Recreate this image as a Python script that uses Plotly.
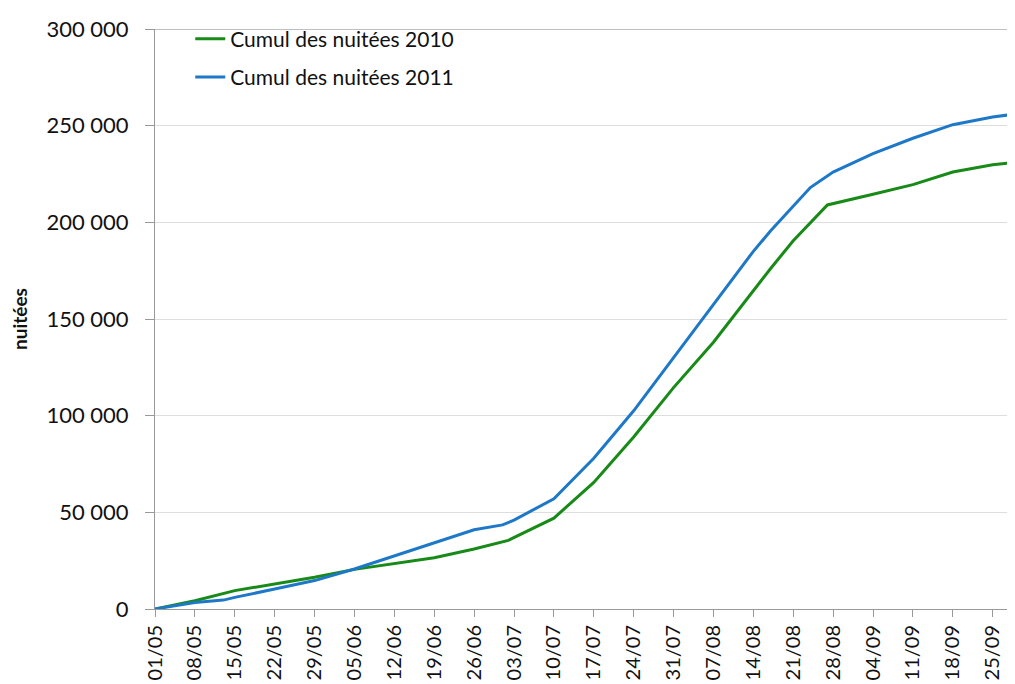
import plotly.graph_objects as go

# cumul des nuitées
dates_2010 = ['2011-05-01', '2011-05-08', '2011-05-15', '2011-05-22', '2011-05-29',
              '2011-06-05', '2011-06-12', '2011-06-19', '2011-06-26', '2011-07-02',
              '2011-07-10', '2011-07-17', '2011-07-24', '2011-07-31', '2011-08-07',
              '2011-08-14', '2011-08-17', '2011-08-21', '2011-08-27', '2011-09-04',
              '2011-09-11', '2011-09-18', '2011-09-25', '2011-09-30']
cumul_2010 = [0, 4300, 9500, 13000, 16400, 20500, 23500, 26500, 31000, 35500,
              47000, 65500, 89000, 114500, 138000, 164800, 176000, 190500, 209000,
              214500, 219500, 226000, 229800, 231300]

dates_2011 = ['2011-05-01', '2011-05-08', '2011-05-13', '2011-05-15', '2011-05-22',
              '2011-05-29', '2011-06-05', '2011-06-12', '2011-06-19', '2011-06-26',
              '2011-07-01', '2011-07-03', '2011-07-10', '2011-07-17', '2011-07-24',
              '2011-07-31', '2011-08-07', '2011-08-14', '2011-08-17', '2011-08-21',
              '2011-08-24', '2011-08-28', '2011-09-04', '2011-09-11', '2011-09-18',
              '2011-09-25', '2011-09-30']
cumul_2011 = [0, 3400, 4600, 6000, 10300, 14700, 20700, 27600, 34500, 41000,
              43500, 46000, 57000, 78000, 102500, 130000, 157000, 185000, 195500,
              208500, 218000, 226000, 235500, 243500, 250500, 254500, 256400]

tick_dates = ['2011-05-01', '2011-05-08', '2011-05-15', '2011-05-22', '2011-05-29',
              '2011-06-05', '2011-06-12', '2011-06-19', '2011-06-26', '2011-07-03',
              '2011-07-10', '2011-07-17', '2011-07-24', '2011-07-31', '2011-08-07',
              '2011-08-14', '2011-08-21', '2011-08-28', '2011-09-04', '2011-09-11',
              '2011-09-18', '2011-09-25']

font_name = "Lato, Open Sans, sans-serif"

fig = go.Figure()
fig.add_trace(go.Scatter(x=dates_2010, y=cumul_2010, mode='lines',
                         name='Cumul des nuitées 2010', legendgroup='a',
                         line=dict(color='#178a17', width=3)))
fig.add_trace(go.Scatter(x=dates_2011, y=cumul_2011, mode='lines',
                         name='Cumul des nuitées 2011', legendgroup='b',
                         line=dict(color='#1e78c8', width=3)))

# la page ajoute 8 px de marge autour de la figure
fig.update_layout(
    width=1007, height=676,
    margin=dict(l=147, r=0, t=21, b=75),
    plot_bgcolor='white', paper_bgcolor='white',
    separators=', ',
    font=dict(family=font_name, size=20, color='#111'),
    showlegend=True,
    legend=dict(x=0.041, y=1.018, xanchor='left', yanchor='top',
                bgcolor='rgba(0,0,0,0)', font=dict(size=21),
                itemwidth=30, tracegroupgap=8),
)

fig.update_xaxes(
    type='date', automargin=False,
    range=['2011-05-01', '2011-09-28 22:00'],
    tickvals=tick_dates, tickformat='%d/%m', tickangle=-90,
    showgrid=False, showline=True, linecolor='#999', linewidth=1,
    ticks='outside', ticklen=7, tickcolor='#999',
    tickfont=dict(size=20),
)
fig.update_yaxes(
    automargin=False,
    range=[0, 300000], dtick=50000, tickformat=',d',
    showgrid=True, gridcolor='#dedede', gridwidth=1,
    showline=True, linecolor='#999', linewidth=1,
    ticks='outside', ticklen=9, tickcolor='#999',
    ticklabelstandoff=12,
    zeroline=False,
    title=dict(text='<b>nuitées</b>', font=dict(size=19), standoff=14),
    tickfont=dict(size=22),
)

# ligne du haut du cadre
fig.add_shape(type='line', xref='paper', yref='y', x0=0, x1=1, y0=300000, y1=300000,
              line=dict(color='#aaa', width=1.5))

fig.write_html("out.html")
